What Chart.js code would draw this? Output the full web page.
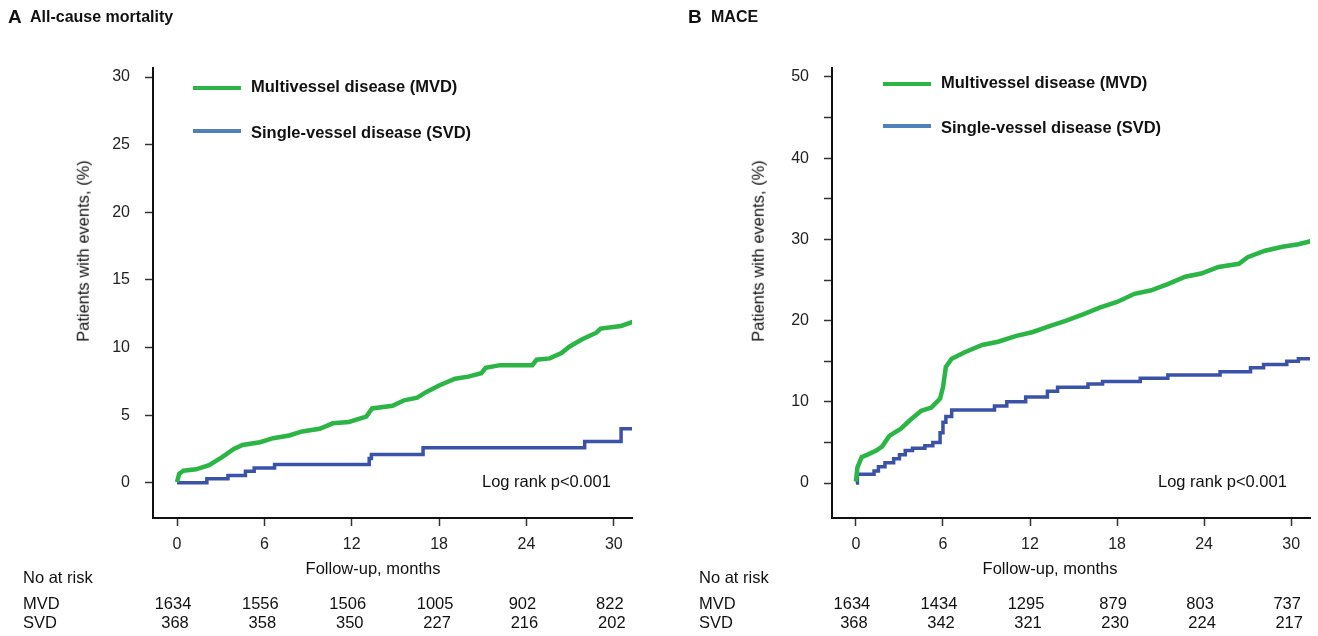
<!DOCTYPE html>
<html>
<head>
<meta charset="utf-8">
<script src="https://cdn.jsdelivr.net/npm/chart.js@4.4.0/dist/chart.umd.min.js"></script>
<style>
  body { margin: 0; background: #fff; }
  #page { position: relative; width: 1318px; height: 636px; overflow: hidden; font-family: "Liberation Sans", Arial, sans-serif; color: #111; }
  canvas { position: absolute; top: 0; }
  .t { position: absolute; white-space: nowrap; line-height: 1; }
  .mid { transform: translateY(-50%); }
  .ctr { transform: translate(-50%, -50%); }
  .bold { font-weight: bold; }
  .swatch { position: absolute; height: 4px; }
</style>
</head>
<body>
<div id="page">
  <canvas id="chartA" width="659" height="636" style="left:0"></canvas>
  <canvas id="chartB" width="659" height="636" style="left:659px"></canvas>
</div>
<script>
// follow-up ticks and numbers at risk
const monthTicks = [0, 6, 12, 18, 24, 30];
const mortalityMvdRisk = [1634, 1556, 1506, 1005, 902, 822];
const mortalitySvdRisk = [368, 358, 350, 227, 216, 202];
const maceMvdRisk = [1634, 1434, 1295, 879, 803, 737];
const maceSvdRisk = [368, 342, 321, 230, 224, 217];

const mortalityTicks = [0, 5, 10, 15, 20, 25, 30];
const maceTicks = [0, 5, 10, 15, 20, 25, 30, 35, 40, 45, 50];

// A: all-cause mortality, MVD
const mortMvdMonths = [0, 0.15, 0.44, 1.3, 2.2, 3.1, 3.9, 4.5, 5.7, 6.6, 7.7, 8.6, 9.8, 10.7, 11.8, 13.0, 13.4, 14.8, 15.6, 16.5, 17.1, 18.0, 19.1, 20.0, 20.9, 21.2, 22.2, 24.4, 24.7, 25.6, 26.4, 27.0, 27.8, 28.8, 29.1, 30.5, 31.3];
const mortMvdPct = [0.05, 0.67, 0.9, 1.0, 1.3, 1.9, 2.5, 2.8, 3.0, 3.3, 3.5, 3.8, 4.0, 4.4, 4.5, 4.9, 5.5, 5.7, 6.1, 6.3, 6.7, 7.2, 7.7, 7.85, 8.1, 8.5, 8.7, 8.7, 9.1, 9.2, 9.6, 10.1, 10.6, 11.1, 11.4, 11.6, 11.9];
// A: all-cause mortality, SVD (step changes)
const mortSvdMonths = [0, 2.05, 3.5, 4.7, 5.3, 6.7, 13.2, 13.35, 16.9, 28.0, 30.5, 31.3];
const mortSvdPct = [0, 0.3, 0.55, 0.85, 1.1, 1.35, 1.8, 2.1, 2.6, 3.05, 4.0, 4.0];

// B: MACE, MVD
const maceMvdMonths = [0, 0.1, 0.4, 0.8, 1.4, 1.8, 2.3, 3.1, 3.7, 4.5, 5.2, 5.8, 6.0, 6.2, 6.6, 7.5, 8.7, 9.8, 11.0, 12.2, 13.3, 14.5, 15.7, 16.8, 18.0, 19.2, 20.3, 21.5, 22.7, 23.8, 25.0, 26.4, 27.0, 28.2, 29.4, 30.5, 31.4];
const maceMvdPct = [0.2, 1.9, 3.2, 3.5, 4.0, 4.5, 5.8, 6.7, 7.7, 8.9, 9.3, 10.4, 11.8, 14.3, 15.3, 16.1, 17.0, 17.4, 18.1, 18.6, 19.3, 20.0, 20.8, 21.6, 22.3, 23.3, 23.7, 24.5, 25.4, 25.8, 26.6, 27.0, 27.8, 28.6, 29.1, 29.4, 29.8];
// B: MACE, SVD
const maceSvdMonths = [0, 0.1, 1.25, 1.55, 2.0, 2.6, 3.0, 3.4, 3.9, 4.75, 5.3, 5.8, 6.0, 6.2, 6.6, 9.55, 10.4, 11.7, 13.2, 13.9, 16.0, 17.0, 19.6, 21.5, 25.1, 27.2, 28.1, 29.7, 30.5, 31.4];
const maceSvdPct = [0, 1.1, 1.5, 2.0, 2.5, 3.0, 3.5, 4.0, 4.3, 4.6, 5.0, 6.2, 7.5, 8.2, 9.0, 9.5, 10.0, 10.6, 11.3, 11.8, 12.2, 12.5, 12.9, 13.3, 13.7, 14.2, 14.6, 15.0, 15.3, 15.3];

const GREEN = '#2bb545';
const BLUE = '#3a52a8';
const LEGEND_BLUE = '#4f81bd';
const FONT = '"Liberation Sans", Arial, sans-serif';

function pts(xs, ys) {
  return xs.map((x, i) => ({ x: x, y: ys[i] }));
}

function makeChart(id, opts) {
  return new Chart(document.getElementById(id), {
    type: 'line',
    data: {
      datasets: [
        { label: 'MVD', data: pts(opts.mvdX, opts.mvdY), borderColor: GREEN, borderWidth: 4.5, pointRadius: 0, tension: 0 },
        // horizontal first, then the jump: Kaplan-Meier style
        { label: 'SVD', data: pts(opts.svdX, opts.svdY), borderColor: BLUE, borderWidth: 3.5, pointRadius: 0, stepped: 'before' }
      ]
    },
    options: {
      responsive: false,
      animation: false,
      layout: { padding: { left: 0, top: 68, right: opts.padRight, bottom: 78 } },
      plugins: { legend: { display: false }, tooltip: { enabled: false } },
      scales: {
        x: {
          type: 'linear',
          min: -1.65,
          max: opts.xMax,
          afterBuildTicks: s => { s.ticks = monthTicks.map(v => ({ value: v })); },
          afterFit: s => { s.height = 40; s.paddingLeft = 0; s.paddingRight = 0; },
          ticks: { font: { family: FONT, size: 16 }, color: '#222', padding: 9 },
          grid: { drawOnChartArea: false, drawTicks: true, tickLength: 8, tickWidth: 1.5, tickColor: '#333' },
          border: { display: true, color: '#111', width: 2 }
        },
        y: {
          min: opts.yMin,
          max: opts.yMax,
          afterBuildTicks: s => { s.ticks = opts.yTicks.map(v => ({ value: v })); },
          afterFit: s => { s.width = opts.yWidth; s.paddingTop = 0; s.paddingBottom = 0; },
          ticks: {
            font: { family: FONT, size: 16 }, color: '#222', padding: 15,
            callback: v => (v % opts.labelEvery === 0 ? String(v) : '')
          },
          grid: { drawOnChartArea: false, drawTicks: true, tickLength: 8, tickWidth: 1.5, tickColor: '#333' },
          border: { display: true, color: '#111', width: 2 }
        }
      }
    }
  });
}

const chartA = makeChart('chartA', {
  mvdX: mortMvdMonths, mvdY: mortMvdPct, svdX: mortSvdMonths, svdY: mortSvdPct,
  yMin: -2.6, yMax: 30.67, yTicks: mortalityTicks, labelEvery: 5,
  yWidth: 153, padRight: 27, xMax: 31.25
});
const chartB = makeChart('chartB', {
  mvdX: maceMvdMonths, mvdY: maceMvdPct, svdX: maceSvdMonths, svdY: maceSvdPct,
  yMin: -4.3, yMax: 51.1, yTicks: maceTicks, labelEvery: 10,
  yWidth: 173, padRight: 8, xMax: 31.3
});

const page = document.getElementById('page');
function addText(txt, x, y, cls, style) {
  const d = document.createElement('div');
  d.className = 't ' + (cls || '');
  d.textContent = txt;
  d.style.left = x + 'px';
  d.style.top = y + 'px';
  if (style) Object.assign(d.style, style);
  page.appendChild(d);
  return d;
}
function addSwatch(x, y, w, color) {
  const d = document.createElement('div');
  d.className = 'swatch';
  Object.assign(d.style, { left: x + 'px', top: (y - 2) + 'px', width: w + 'px', background: color });
  page.appendChild(d);
}

function decorate(chart, offset, p) {
  // panel title
  addText(p.letter, p.letterX, 16, 'mid bold', { fontSize: '19px' });
  addText(p.title, p.titleX, 17, 'mid bold', { fontSize: '16px' });
  // legend
  addSwatch(p.legX, p.legY1, 48, GREEN);
  addSwatch(p.legX, p.legY2, 48, LEGEND_BLUE);
  addText('Multivessel disease (MVD)', p.legX + 58, p.legY1 - 2, 'mid bold', { fontSize: '16.5px' });
  addText('Single-vessel disease (SVD)', p.legX + 58, p.legY2 + 1, 'mid bold', { fontSize: '16.5px' });
  // axis titles
  addText('Patients with events, (%)', p.yTitleX, 251, 'ctr', { fontSize: '16.5px', transform: 'translate(-50%, -50%) rotate(-90deg)' });
  addText('Follow-up, months', p.xTitleX, 568, 'ctr', { fontSize: '16.5px' });
  addText('Log rank p<0.001', p.logX, 481, 'mid', { fontSize: '16.5px' });
  // numbers at risk, centred under the follow-up ticks
  addText('No at risk', p.rowX, 577, 'mid', { fontSize: '16.5px' });
  addText('MVD', p.rowX, 603, 'mid', { fontSize: '16.5px' });
  addText('SVD', p.rowX, 622, 'mid', { fontSize: '16.5px' });
  monthTicks.forEach((m, i) => {
    const px = offset + chart.scales.x.getPixelForValue(m);
    addText(String(p.mvdRisk[i]), px - 4, 603, 'ctr', { fontSize: '16.5px' });
    addText(String(p.svdRisk[i]), px - 2, 622, 'ctr', { fontSize: '16.5px' });
  });
}

decorate(chartA, 0, {
  letter: 'A', letterX: 8, title: 'All-cause mortality', titleX: 30,
  legX: 193, legY1: 88, legY2: 131,
  yTitleX: 83, xTitleX: 373, logX: 482,
  rowX: 23, mvdRisk: mortalityMvdRisk, svdRisk: mortalitySvdRisk
});
decorate(chartB, 659, {
  letter: 'B', letterX: 688, title: 'MACE', titleX: 711,
  legX: 883, legY1: 84, legY2: 126,
  yTitleX: 758, xTitleX: 1050, logX: 1158,
  rowX: 699, mvdRisk: maceMvdRisk, svdRisk: maceSvdRisk
});
</script>
</body>
</html>
